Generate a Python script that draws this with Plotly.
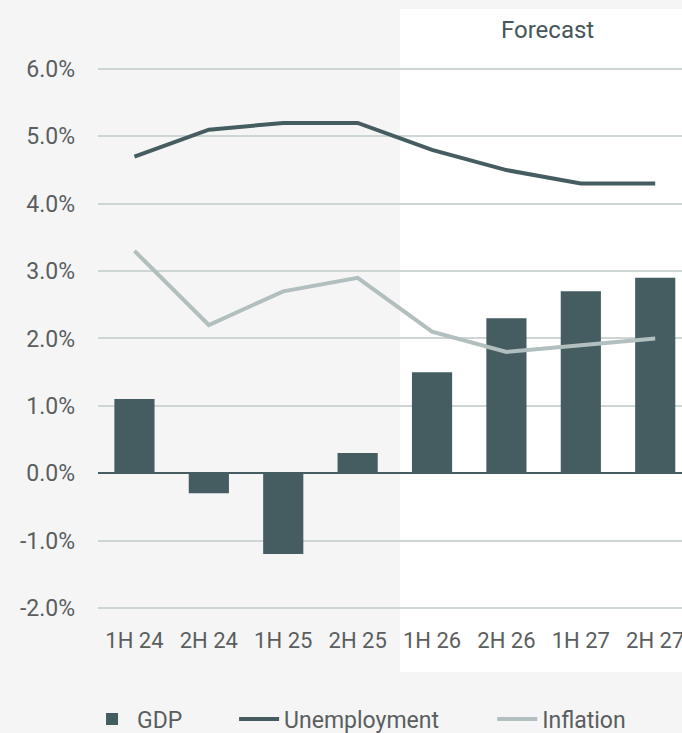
import plotly.graph_objects as go

periods = ["1H 24", "2H 24", "1H 25", "2H 25", "1H 26", "2H 26", "1H 27", "2H 27"]
gdp = [1.1, -0.3, -1.2, 0.3, 1.5, 2.3, 2.7, 2.9]
unemployment = [4.7, 5.1, 5.2, 5.2, 4.8, 4.5, 4.3, 4.3]
inflation = [3.3, 2.2, 2.7, 2.9, 2.1, 1.8, 1.9, 2.0]
y_ticks = [-2, -1, 0, 1, 2, 3, 4, 5, 6]
y_tick_labels = ["-2.0%", "-1.0%", "0.0%", "1.0%", "2.0%", "3.0%", "4.0%", "5.0%", "6.0%"]

DARK = "#455d60"
LIGHT = "#b2bfbf"
GRID = "#cdd5d5"
TEXT = "#5a5e5f"
FONT = "Roboto"

x_idx = list(range(len(periods)))

fig = go.Figure()
fig.add_trace(go.Bar(x=x_idx, y=gdp, name="GDP", marker=dict(color=DARK, line=dict(width=0)),
                     width=0.54, legend="legend"))
fig.add_trace(go.Scatter(x=x_idx, y=unemployment, name="Unemployment", mode="lines",
                         line=dict(color=DARK, width=4), legend="legend2"))
fig.add_trace(go.Scatter(x=x_idx, y=inflation, name="Inflation", mode="lines",
                         line=dict(color=LIGHT, width=4), legend="legend3"))

fig.add_shape(type="rect", xref="paper", yref="paper", x0=0.517, x1=1.02, y0=-0.0845, y1=1.0355,
              fillcolor="white", line=dict(width=0), layer="below")

fig.add_annotation(text="Forecast", xref="paper", yref="paper", x=0.7705, y=1.0008,
                   xanchor="center", yanchor="middle", showarrow=False,
                   font=dict(family=FONT, size=24, color="#44575a"))

leg_common = dict(orientation="h", xref="paper", yref="paper", y=-0.164,
                  xanchor="left", yanchor="middle", bgcolor="rgba(0,0,0,0)",
                  font=dict(family=FONT, size=23, color=TEXT), itemwidth=40)

fig.update_layout(
    width=682, height=733,
    margin=dict(l=98, r=0, t=30, b=111, autoexpand=False),
    paper_bgcolor="#f5f5f5",
    plot_bgcolor="rgba(0,0,0,0)",
    font=dict(family=FONT, size=22, color=TEXT),
    showlegend=True,
    legend=dict(x=-0.0188, **leg_common),
    legend2=dict(x=0.233, **leg_common),
    legend3=dict(x=0.675, **leg_common),
)
fig.update_xaxes(range=[-0.49, 7.36], tickmode="array", tickvals=x_idx, ticktext=periods,
                 showgrid=False, zeroline=False, showline=False, ticks="",
                 automargin=False, ticklabeloverflow="allow", ticklabelstandoff=3,
                 tickfont=dict(family=FONT, size=22, color=TEXT), fixedrange=True)
fig.update_yaxes(range=[-2.21, 6.58], tickmode="array", tickvals=y_ticks, ticktext=y_tick_labels,
                 showgrid=True, gridcolor=GRID, gridwidth=2,
                 zeroline=True, zerolinecolor=DARK, zerolinewidth=2,
                 showline=False, ticks="", ticklabelstandoff=22, automargin=False,
                 tickfont=dict(family=FONT, size=23, color=TEXT), fixedrange=True)

fig.write_html("out.html", config={"displayModeBar": False},
               post_script="document.body.style.margin='0';document.body.style.overflow='hidden';")
